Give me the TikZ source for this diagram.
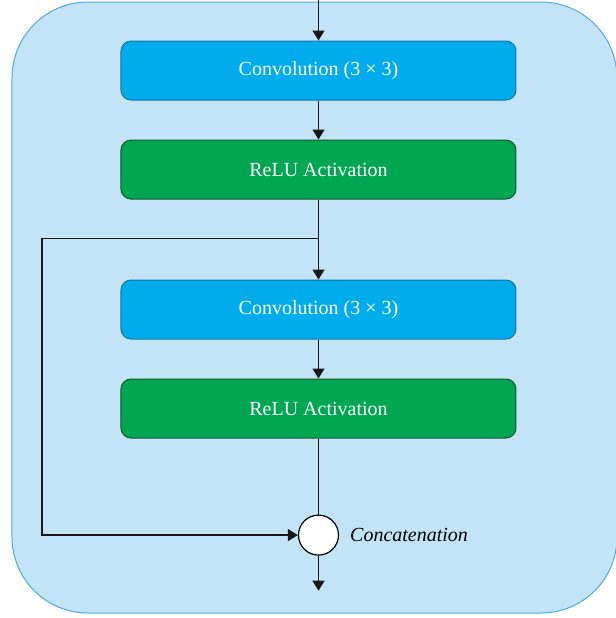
\documentclass[tikz,border=0pt]{standalone}
\usepackage{fontspec}
\setmainfont{Liberation Serif}
\usetikzlibrary{arrows.meta, positioning}
\definecolor{panelblue}{RGB}{194, 228, 246}
\definecolor{paneledge}{RGB}{80, 170, 220}
\definecolor{convblue}{RGB}{0, 172, 236}
\definecolor{convedge}{RGB}{25, 115, 165}
\definecolor{relugreen}{RGB}{0, 166, 81}
\definecolor{reluedge}{RGB}{25, 85, 45}

\begin{document}
\begin{tikzpicture}[
  x=0.5pt, y=-0.5pt,
  node distance=19.5pt,
  >={Triangle[length=5pt, width=6pt]},
  convbox/.style={
    rectangle, draw=convedge, fill=convblue,
    rounded corners=5pt, line width=0.5pt,
    minimum width=197.5pt, minimum height=29.5pt,
    text centered, text=white, font=\normalsize
  },
  relubox/.style={
    rectangle, draw=reluedge, fill=relugreen,
    rounded corners=5pt, line width=0.5pt,
    minimum width=197.5pt, minimum height=29.5pt,
    text centered, text=white, font=\normalsize
  },
  joint/.style={circle, draw=black, fill=white, line width=0.6pt, minimum size=20pt, inner sep=0pt},
  flow/.style={->, line width=0.65pt, black!90}
]
  \useasboundingbox (0,0) rectangle (616,618);
  % light blue panel behind the block
  \draw[fill=panelblue, draw=paneledge, line width=0.5pt, rounded corners=38pt]
    (12,2) rectangle (617,613);

  \node[convbox] (conv1) at (318.5,70.5) {Convolution (3 × 3)};
  \node[relubox, below=of conv1] (relu1) {ReLU Activation};
  \node[convbox, below=40pt of relu1] (conv2) {Convolution (3 × 3)};
  \node[relubox, below=of conv2] (relu2) {ReLU Activation};
  \node[joint, below=38pt of relu2] (cat) {};
  \node[font=\itshape, right=2pt of cat] (catlbl) {Concatenation};

  \coordinate (in) at (318.5,0);
  \coordinate[below=of relu1] (split);
  \coordinate (bend) at (42,0);
  \coordinate[below=17.5pt of cat] (out);

  \draw[flow] (in) -- (conv1);
  \draw[flow] (conv1) -- (relu1);
  \draw[flow] (relu1) -- (conv2);
  \draw[flow] (conv2) -- (relu2);
  \draw[line width=0.65pt, black!90] (relu2) -- (cat);
  % skip connection round the left side
  \draw[flow] (split) -- (split -| bend) |- (cat);
  \draw[flow] (cat) -- (out);
\end{tikzpicture}
\end{document}
